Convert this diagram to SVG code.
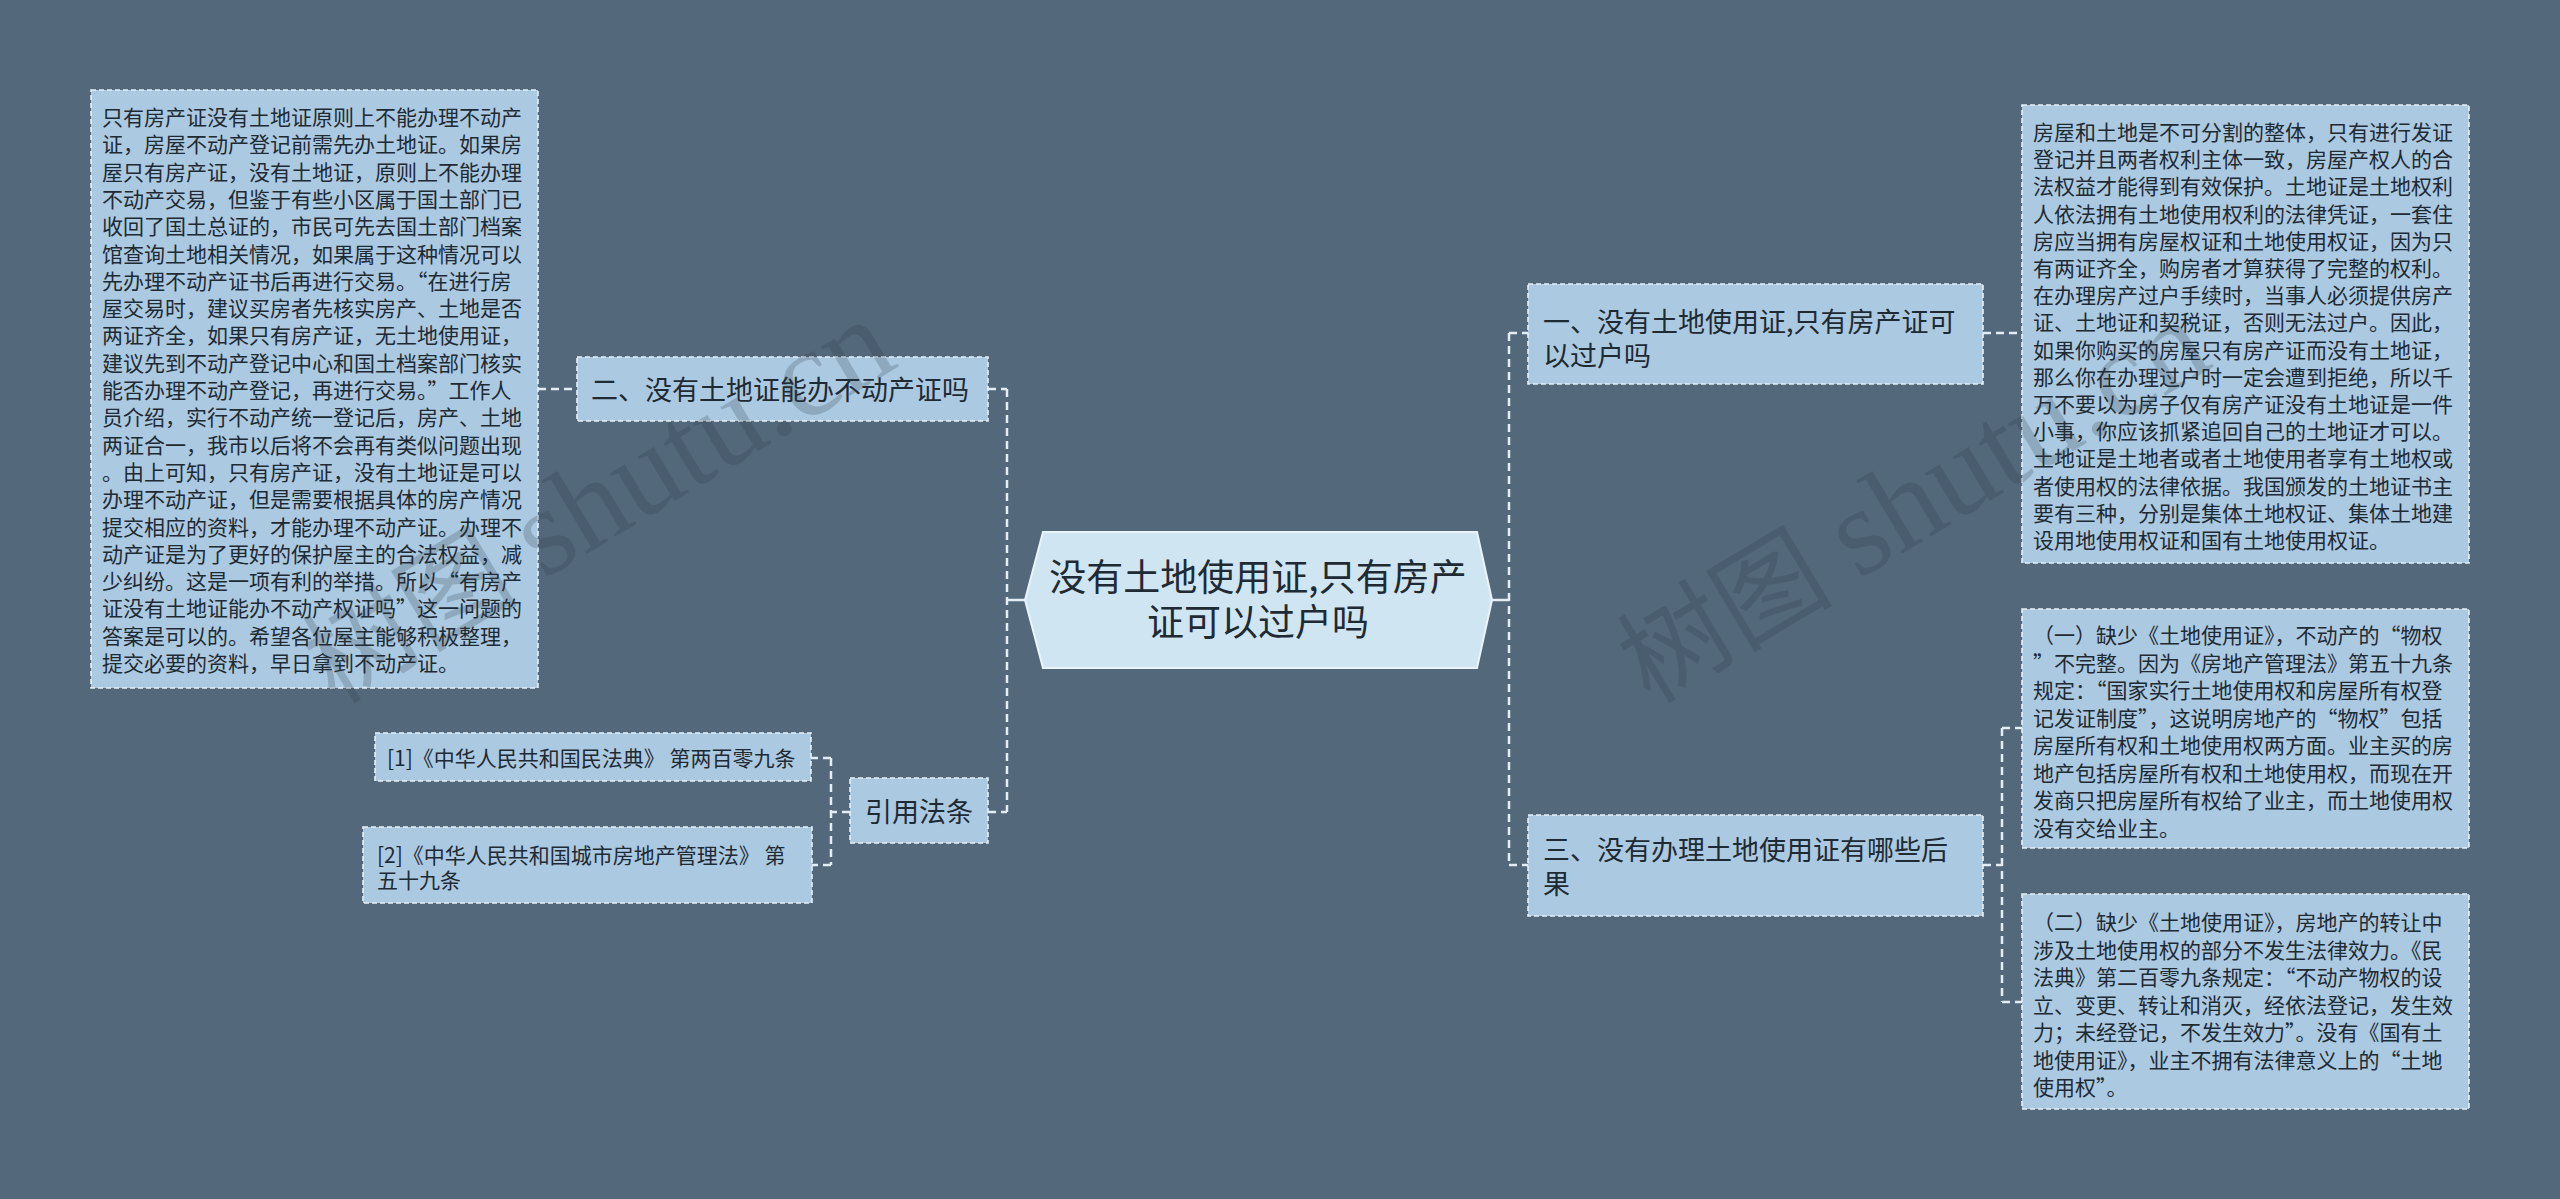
<svg xmlns="http://www.w3.org/2000/svg" width="2560" height="1199" viewBox="0 0 2560 1199">
<style>
.bg{fill:#53687a}
.box{fill:#abc9e0;stroke:#e6f0f8;stroke-width:1.6;stroke-dasharray:5 3}
.hex{fill:#cfe5f2;stroke:#e9f4fb;stroke-width:2}
.t{font-family:"Microsoft YaHei","Noto Sans CJK SC","Noto Sans",sans-serif;fill:#1e2a34}
.s21{font-size:21px}
.s27{font-size:27px}
.s37{font-size:37px}
.c{fill:none;stroke:#e3edf5;stroke-width:2.5;stroke-dasharray:8 5}
.cs{fill:none;stroke:#e3edf5;stroke-width:2.5}
.wm{font-family:"Liberation Serif","Noto Sans CJK SC",serif;font-size:108px;fill:#2c3a46;opacity:0.22}
.wl{font-size:124px}
</style>
<rect class="bg" x="0" y="0" width="2560" height="1199"/>

<g id="connectors">
<path class="cs" d="M1025 600H1007"/>
<path class="c" d="M1007 389V812M988 389H1007M988 812H1007"/>
<path class="c" d="M538 389H577"/>
<path class="c" d="M850 812H831M831 758V865M831 758H811M831 865H812"/>
<path class="cs" d="M1492 600H1509"/>
<path class="c" d="M1509 333V865M1509 333H1528M1509 865H1528"/>
<path class="c" d="M1983 333H2022"/>
<path class="c" d="M1983 865H2002M2002 728V1002M2002 728H2022M2002 1002H2022"/>
</g>

<g id="root">
<polygon class="hex" points="1043,532 1477,532 1492,600 1477,668 1043,668 1025,600"/>
<text class="t s37" text-anchor="middle" x="1258" y="591">没有土地使用证,只有房产</text>
<text class="t s37" text-anchor="middle" x="1258" y="636">证可以过户吗</text>
</g>

<g id="node-er">
<rect class="box" x="577" y="357" width="411" height="64"/>
<text class="t s27" x="591" y="400">二、没有土地证能办不动产证吗</text>
</g>

<g id="node-er-detail">
<rect class="box" x="91" y="90" width="447" height="598"/>
<text class="t s21">
<tspan x="102" y="125">只有房产证没有土地证原则上不能办理不动产</tspan>
<tspan x="102" y="152.3">证，房屋不动产登记前需先办土地证。如果房</tspan>
<tspan x="102" y="179.6">屋只有房产证，没有土地证，原则上不能办理</tspan>
<tspan x="102" y="206.9">不动产交易，但鉴于有些小区属于国土部门已</tspan>
<tspan x="102" y="234.2">收回了国土总证的，市民可先去国土部门档案</tspan>
<tspan x="102" y="261.5">馆查询土地相关情况，如果属于这种情况可以</tspan>
<tspan x="102" y="288.8">先办理不动产证书后再进行交易。“在进行房</tspan>
<tspan x="102" y="316.1">屋交易时，建议买房者先核实房产、土地是否</tspan>
<tspan x="102" y="343.4">两证齐全，如果只有房产证，无土地使用证，</tspan>
<tspan x="102" y="370.7">建议先到不动产登记中心和国土档案部门核实</tspan>
<tspan x="102" y="398">能否办理不动产登记，再进行交易。”工作人</tspan>
<tspan x="102" y="425.3">员介绍，实行不动产统一登记后，房产、土地</tspan>
<tspan x="102" y="452.6">两证合一，我市以后将不会再有类似问题出现</tspan>
<tspan x="102" y="479.9">。由上可知，只有房产证，没有土地证是可以</tspan>
<tspan x="102" y="507.2">办理不动产证，但是需要根据具体的房产情况</tspan>
<tspan x="102" y="534.5">提交相应的资料，才能办理不动产证。办理不</tspan>
<tspan x="102" y="561.8">动产证是为了更好的保护屋主的合法权益，减</tspan>
<tspan x="102" y="589.1">少纠纷。这是一项有利的举措。所以“有房产</tspan>
<tspan x="102" y="616.4">证没有土地证能办不动产权证吗”这一问题的</tspan>
<tspan x="102" y="643.7">答案是可以的。希望各位屋主能够积极整理，</tspan>
<tspan x="102" y="671">提交必要的资料，早日拿到不动产证。</tspan>
</text>
</g>

<g id="node-law">
<rect class="box" x="850" y="778" width="138" height="65"/>
<text class="t s27" text-anchor="middle" x="919" y="822">引用法条</text>
</g>

<g id="node-law-1">
<rect class="box" x="375" y="733" width="436" height="48"/>
<text class="t s21" x="387" y="766">[1]《中华人民共和国民法典》 第两百零九条</text>
</g>

<g id="node-law-2">
<rect class="box" x="363" y="827" width="449" height="76"/>
<text class="t s21"><tspan x="377" y="863">[2]《中华人民共和国城市房地产管理法》 第</tspan><tspan x="377" y="888">五十九条</tspan></text>
</g>

<g id="node-yi">
<rect class="box" x="1528" y="284" width="455" height="100"/>
<text class="t s27"><tspan x="1543" y="332">一、没有土地使用证,只有房产证可</tspan><tspan x="1543" y="366">以过户吗</tspan></text>
</g>

<g id="node-yi-detail">
<rect class="box" x="2022" y="105" width="447" height="458"/>
<text class="t s21">
<tspan x="2033" y="140">房屋和土地是不可分割的整体，只有进行发证</tspan>
<tspan x="2033" y="167.2">登记并且两者权利主体一致，房屋产权人的合</tspan>
<tspan x="2033" y="194.4">法权益才能得到有效保护。土地证是土地权利</tspan>
<tspan x="2033" y="221.6">人依法拥有土地使用权利的法律凭证，一套住</tspan>
<tspan x="2033" y="248.8">房应当拥有房屋权证和土地使用权证，因为只</tspan>
<tspan x="2033" y="276">有两证齐全，购房者才算获得了完整的权利。</tspan>
<tspan x="2033" y="303.2">在办理房产过户手续时，当事人必须提供房产</tspan>
<tspan x="2033" y="330.4">证、土地证和契税证，否则无法过户。因此，</tspan>
<tspan x="2033" y="357.6">如果你购买的房屋只有房产证而没有土地证，</tspan>
<tspan x="2033" y="384.8">那么你在办理过户时一定会遭到拒绝，所以千</tspan>
<tspan x="2033" y="412">万不要以为房子仅有房产证没有土地证是一件</tspan>
<tspan x="2033" y="439.2">小事，你应该抓紧追回自己的土地证才可以。</tspan>
<tspan x="2033" y="466.4">土地证是土地者或者土地使用者享有土地权或</tspan>
<tspan x="2033" y="493.6">者使用权的法律依据。我国颁发的土地证书主</tspan>
<tspan x="2033" y="520.8">要有三种，分别是集体土地权证、集体土地建</tspan>
<tspan x="2033" y="548">设用地使用权证和国有土地使用权证。</tspan>
</text>
</g>

<g id="node-san">
<rect class="box" x="1528" y="815" width="455" height="101"/>
<text class="t s27"><tspan x="1543" y="860">三、没有办理土地使用证有哪些后</tspan><tspan x="1543" y="894">果</tspan></text>
</g>

<g id="node-san-1">
<rect class="box" x="2022" y="609" width="447" height="239"/>
<text class="t s21">
<tspan x="2033" y="643">（一）缺少《土地使用证》，不动产的“物权</tspan>
<tspan x="2033" y="670.5">”不完整。因为《房地产管理法》第五十九条</tspan>
<tspan x="2033" y="698">规定：“国家实行土地使用权和房屋所有权登</tspan>
<tspan x="2033" y="725.5">记发证制度”，这说明房地产的“物权”包括</tspan>
<tspan x="2033" y="753">房屋所有权和土地使用权两方面。业主买的房</tspan>
<tspan x="2033" y="780.5">地产包括房屋所有权和土地使用权，而现在开</tspan>
<tspan x="2033" y="808">发商只把房屋所有权给了业主，而土地使用权</tspan>
<tspan x="2033" y="835.5">没有交给业主。</tspan>
</text>
</g>

<g id="node-san-2">
<rect class="box" x="2022" y="894" width="447" height="215"/>
<text class="t s21">
<tspan x="2033" y="930">（二）缺少《土地使用证》，房地产的转让中</tspan>
<tspan x="2033" y="957.5">涉及土地使用权的部分不发生法律效力。《民</tspan>
<tspan x="2033" y="985">法典》第二百零九条规定：“不动产物权的设</tspan>
<tspan x="2033" y="1012.5">立、变更、转让和消灭，经依法登记，发生效</tspan>
<tspan x="2033" y="1040">力；未经登记，不发生效力”。没有《国有土</tspan>
<tspan x="2033" y="1067.5">地使用证》，业主不拥有法律意义上的“土地</tspan>
<tspan x="2033" y="1095">使用权”。</tspan>
</text>
</g>

<g id="watermark">
<text class="wm" transform="translate(335 705) rotate(-31)">树图 <tspan class="wl">shutu.cn</tspan></text>
<text class="wm" transform="translate(1650 705) rotate(-31)">树图 <tspan class="wl">shutu.cn</tspan></text>
</g>
</svg>
